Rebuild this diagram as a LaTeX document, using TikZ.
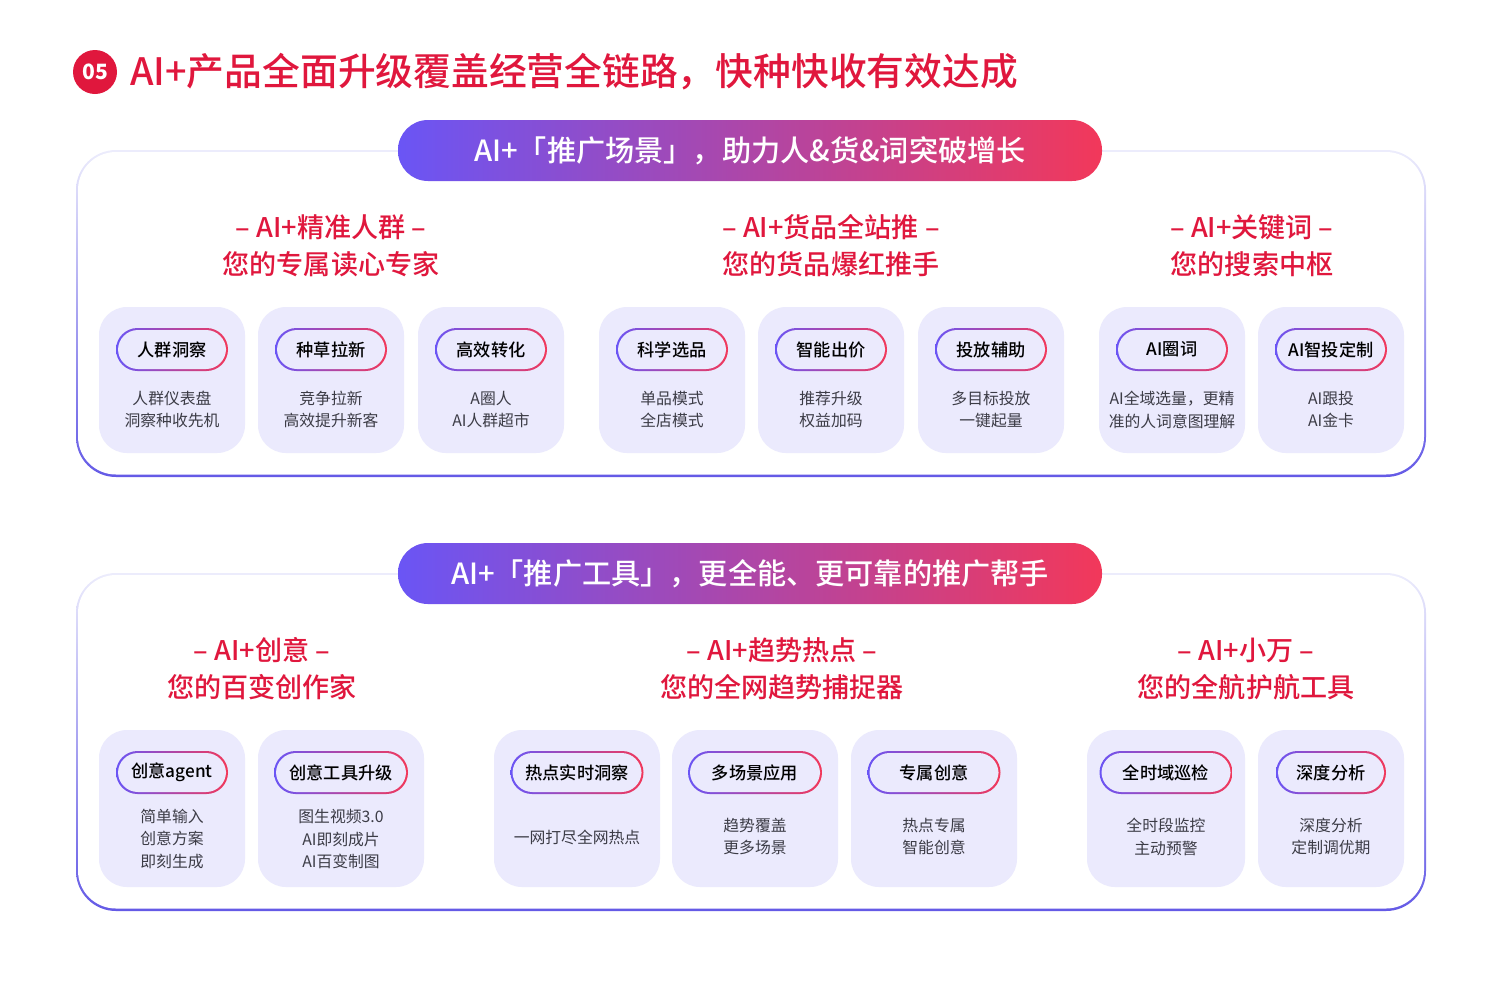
\documentclass[tikz,border=0pt]{standalone}
\usepackage{fontspec}
\setmainfont{Noto Sans CJK SC}
\newfontfamily\medfont{Noto Sans CJK SC Medium}
\usetikzlibrary{positioning}
\definecolor{brandred}{RGB}{224,23,61}
\definecolor{pillleft}{RGB}{106,85,245}
\definecolor{pillright}{RGB}{242,56,90}
\definecolor{cardfill}{RGB}{235,234,253}
\definecolor{framelow}{RGB}{100,90,230}
\definecolor{framehigh}{RGB}{236,236,252}
\definecolor{desctext}{RGB}{60,60,70}
\tikzset{
  heading/.style={text=brandred, font=\fontsize{15.4}{21}\medfont, align=center},
  pilltext/.style={text=white, font=\fontsize{16.6}{18}\medfont},
  tagtext/.style={text=black, font=\fontsize{9.8}{11}\medfont},
  desc/.style={text=desctext, font=\fontsize{9}{13}\selectfont, align=center},
}
\newcommand{\drawframe}[2]{% top, bottom
  \shade[top color=framehigh, bottom color=framelow, rounded corners=0.8cm] (76,#1) rectangle (1426,#2);
  \fill[white, rounded corners=0.76cm] (78,#1+2) rectangle (1424,#2-2.5);
}
\newcommand{\drawtag}[4]{% center x, top y, width, name
  \shade[left color=pillleft, right color=pillright, rounded corners=0.43cm] (#1-#3/2,#2) rectangle (#1+#3/2,#2+43);
  \fill[cardfill, rounded corners=0.4cm] (#1-#3/2+2,#2+2) rectangle (#1+#3/2-2,#2+41);
}
\begin{document}
\begin{tikzpicture}[x=0.02cm, y=-0.02cm]
\useasboundingbox (0,0) rectangle (1500,981);

% title
\fill[brandred] (95,72) circle (22);
\node (num) [text=white, font=\fontsize{12}{12}\selectfont\bfseries] at (95,72) {05};
\node (title) [anchor=west, text=brandred, font=\fontsize{21.5}{24}\medfont] at (124,72) {AI+产品全面升级覆盖经营全链路，快种快收有效达成};

% upper block
\drawframe{150}{477}
\shade[left color=pillleft, right color=pillright, rounded corners=0.6cm] (398,120) rectangle (1102,181);
\node (pill1) [pilltext] at (750,151) {AI+「推广场景」，助力人\&货\&词突破增长};

\node (h1) [heading] at (331,246) {– AI+精准人群 –\\您的专属读心专家};
\node (h2) [heading] at (831,246) {– AI+货品全站推 –\\您的货品爆红推手};
\node (h3) [heading] at (1252,246) {– AI+关键词 –\\您的搜索中枢};

\foreach \x/\t/\d [count=\i] in {
  172/人群洞察/人群仪表盘\\洞察种收先机,
  331/种草拉新/竞争拉新\\高效提升新客,
  491/高效转化/A圈人\\AI人群超市,
  672/科学选品/单品模式\\全店模式,
  831/智能出价/推荐升级\\权益加码,
  991/投放辅助/多目标投放\\一键起量,
  1172/AI圈词/AI全域选量，更精\\准的人词意图理解,
  1331/AI智投定制/AI跟投\\AI金卡}{
  \fill[cardfill, rounded corners=0.56cm] (\x-73,307) rectangle (\x+73,453);
  \drawtag{\x}{328}{112}{}
  \node (tagA\i) [tagtext] at (\x,349.5) {\t};
  \node (descA\i) [desc] at (\x,409.5) {\d};
}

% lower block
\drawframe{573}{911}
\shade[left color=pillleft, right color=pillright, rounded corners=0.6cm] (398,543) rectangle (1102,604);
\node (pill2) [pilltext] at (750,574) {AI+「推广工具」，更全能、更可靠的推广帮手};

\node (h4) [heading] at (262,669) {– AI+创意 –\\您的百变创作家};
\node (h5) [heading] at (782,669) {– AI+趋势热点 –\\您的全网趋势捕捉器};
\node (h6) [heading] at (1246,669) {– AI+小万 –\\您的全航护航工具};

\foreach \x/\w/\tw/\t/\dy/\d [count=\i] in {
  172/146/112/创意agent/839/简单输入\\创意方案\\即刻生成,
  341/166/134/创意工具升级/839/图生视频3.0\\AI即刻成片\\AI百变制图,
  577/166/133/热点实时洞察/837/一网打尽全网热点,
  755/166/134/多场景应用/836.5/趋势覆盖\\更多场景,
  934/166/133/专属创意/836.5/热点专属\\智能创意,
  1166/158/133/全时域巡检/836.5/全时段监控\\主动预警,
  1331/146/110/深度分析/836.5/深度分析\\定制调优期}{
  \fill[cardfill, rounded corners=0.56cm] (\x-\w/2,730) rectangle (\x+\w/2,887);
  \drawtag{\x}{751}{\tw}{}
  \node (tagB\i) [tagtext] at (\x,772.5) {\t};
  \node (descB\i) [desc] at (\x,\dy) {\d};
}
\end{tikzpicture}
\end{document}
